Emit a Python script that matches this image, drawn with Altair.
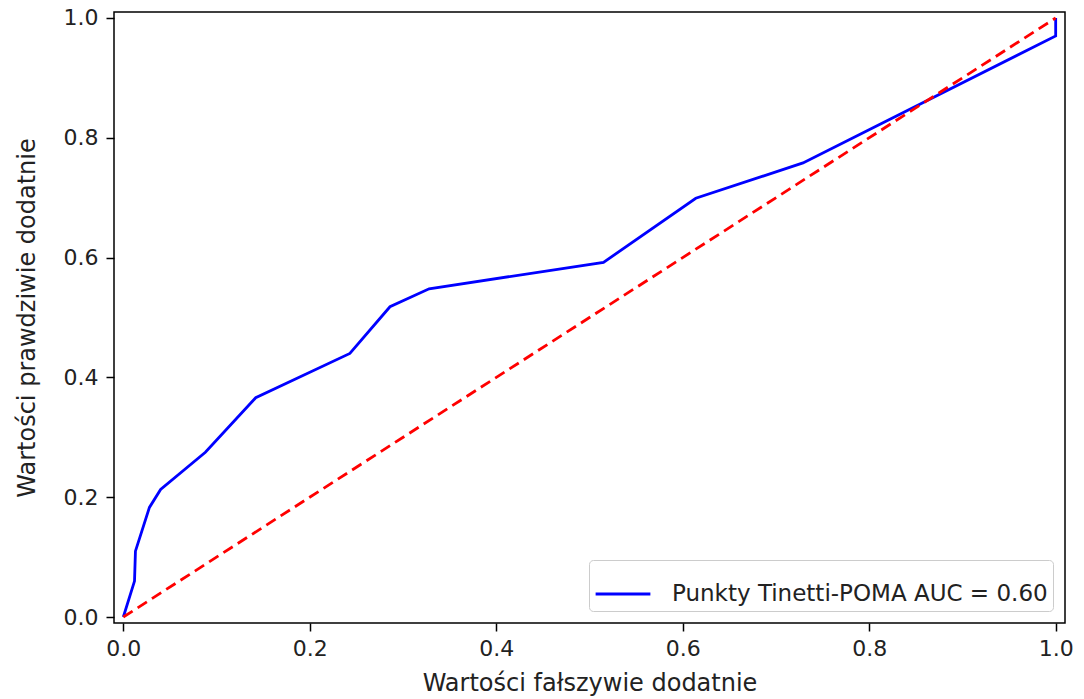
import altair as alt
import pandas as pd

# ROC curve points
fpr = [0.0, 0.012, 0.013, 0.028, 0.040, 0.088, 0.142, 0.243, 0.286, 0.328, 0.515, 0.614, 0.729, 1.0, 1.0]
tpr = [0.0, 0.060, 0.110, 0.183, 0.213, 0.275, 0.366, 0.440, 0.518, 0.548, 0.592, 0.699, 0.758, 0.970, 1.0]
series_name = "Punkty Tinetti-POMA AUC = 0.60"

diag_x = [0.0, 1.0]
diag_y = [0.0, 1.0]

ticks = [0.0, 0.2, 0.4, 0.6, 0.8, 1.0]

roc = pd.DataFrame({"fpr": fpr, "tpr": tpr, "i": list(range(len(fpr))), "s": series_name})
diag = pd.DataFrame({"fpr": diag_x, "tpr": diag_y, "i": [0, 1]})

FONT = "DejaVu Sans"

xscale = alt.Scale(domain=[-0.01, 1.01], nice=False, zero=False)
yscale = alt.Scale(domain=[-0.01, 1.01], nice=False, zero=False)

xaxis = alt.Axis(values=ticks, format=".1f", title="Wartości fałszywie dodatnie",
                 grid=False, domain=False, tickColor="black", tickWidth=1.5, tickSize=8,
                 labelFontSize=22, labelColor="#222", labelPadding=7,
                 titleFontSize=24, titleFontWeight="normal", titleColor="#222", titlePadding=12)
yaxis = alt.Axis(values=ticks, format=".1f", title="Wartości prawdziwie dodatnie",
                 grid=False, domain=False, tickColor="black", tickWidth=1.5, tickSize=8,
                 labelFontSize=22, labelColor="#222", labelPadding=8,
                 titleFontSize=24, titleFontWeight="normal", titleColor="#222", titlePadding=24)

line = alt.Chart(roc).mark_line(strokeWidth=2.8, clip=True).encode(
    x=alt.X("fpr:Q", scale=xscale, axis=xaxis),
    y=alt.Y("tpr:Q", scale=yscale, axis=yaxis),
    order="i:Q",
    color=alt.Color("s:N", scale=alt.Scale(domain=[series_name], range=["#0000ff"]),
                    legend=alt.Legend(title=None, orient="bottom-right", symbolType="stroke",
                                      symbolSize=3000, symbolStrokeWidth=2.8,
                                      labelFontSize=23, labelColor="#222", labelFont=FONT,
                                      strokeColor="#cccccc", fillColor="white", cornerRadius=4,
                                      padding=5, offset=12, labelOffset=20,
                                      labelLimit=600)),
)

dashed = alt.Chart(diag).mark_line(color="#ff0000", strokeWidth=2.8, strokeDash=[11, 6], clip=True).encode(
    x=alt.X("fpr:Q", scale=xscale),
    y=alt.Y("tpr:Q", scale=yscale),
    order="i:Q",
)

chart = alt.layer(line, dashed).properties(
    width=951, height=611,
    autosize=alt.AutoSizeParams(type="none"),
    padding={"left": 114, "top": 12, "right": 19, "bottom": 76},
    background="white",
).configure(font=FONT).configure_view(stroke="black", strokeWidth=1.5)

chart.save("out.html", embed_options={"renderer": "svg", "actions": False})
